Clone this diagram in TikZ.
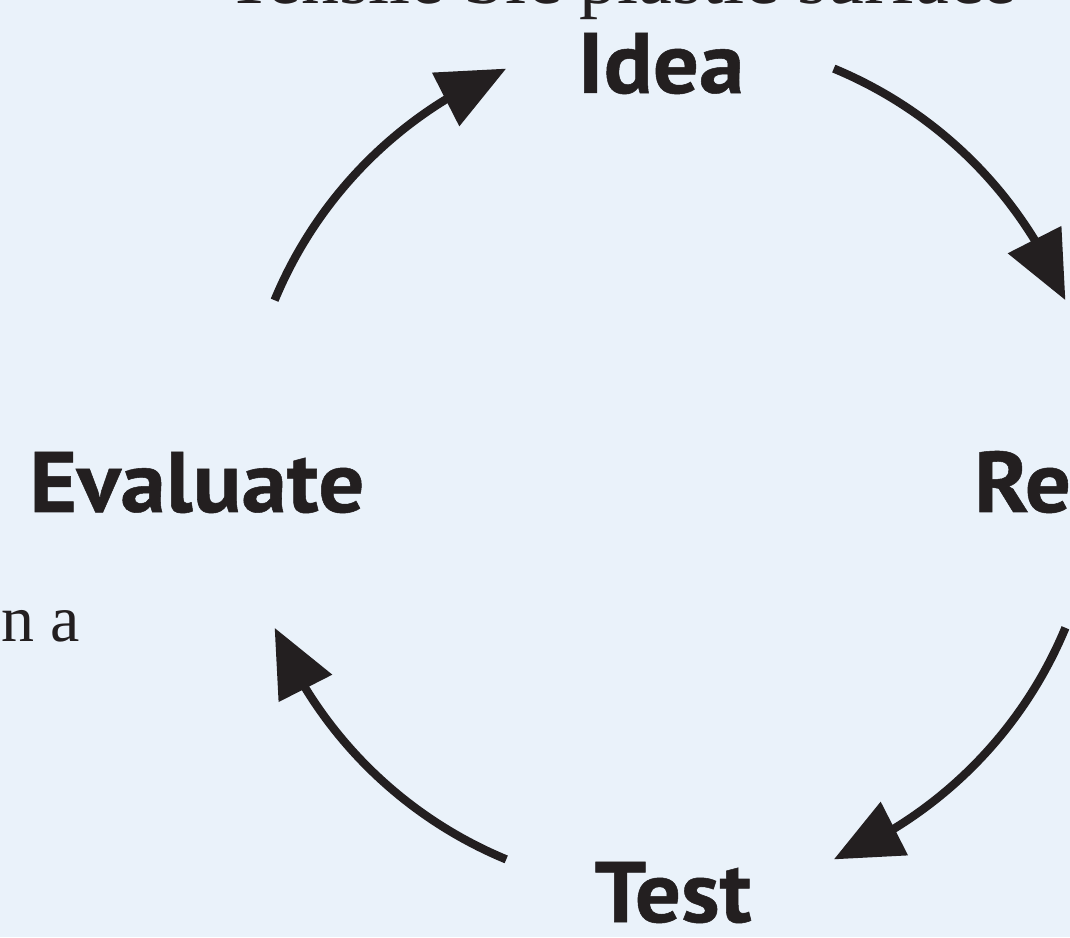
\documentclass[tikz,border=0pt]{standalone}
\usepackage{fontspec}
\setmainfont{Liberation Serif}
\newfontfamily\labfont{PT Sans}[FakeStretch=1.06,FakeBold=0.6]
\usetikzlibrary{arrows.meta,bending}
\definecolor{bg}{RGB}{234,242,250}
\definecolor{ink}{RGB}{35,31,32}
\begin{document}
\begin{tikzpicture}[x=1pt,y=1pt,
  lab/.style={font=\labfont\bfseries\fontsize{86}{90}\selectfont, text=ink, inner sep=0pt},
  prose/.style={font=\fontsize{66}{72}\selectfont, text=ink, inner sep=0pt},
  cyc/.style={draw=ink, line width=8.3pt, -{Triangle[length=68pt,width=58pt,flex]}}]
\useasboundingbox (0,0) rectangle (1070,937);
\clip (0,0) rectangle (1070,937);
\fill[bg] (0,0) rectangle (1070,937);
\node[prose, anchor=base west, font=\fontsize{76}{80}\selectfont] (top) at (226,933) {Tensile Sic plastic surface};
\node[prose, anchor=base east] (na) at (80,295) {n a};
\node[lab, anchor=base] (idea) at (661,844) {Idea};
\node[lab, anchor=base] (eval) at (197,425) {Evaluate};
\node[lab, anchor=base west] (re) at (974,425) {Re};
\node[lab, anchor=base] (test) at (673,15) {Test};
\coordinate (c) at (670,473);
\coordinate (s1) at ([shift={(157.5:428)}]c);
\coordinate (s2) at ([shift={(67.5:428)}]c);
\coordinate (s3) at ([shift={(-22.5:428)}]c);
\coordinate (s4) at ([shift={(-112.5:428)}]c);
\draw[cyc] (s1) arc[start angle=157.5, end angle=112.5, radius=428];
\draw[cyc] (s2) arc[start angle=67.5, end angle=22.5, radius=428];
\draw[cyc] (s3) arc[start angle=-22.5, end angle=-67.5, radius=428];
\draw[cyc] (s4) arc[start angle=-112.5, end angle=-157.5, radius=428];
\end{tikzpicture}
\end{document}
